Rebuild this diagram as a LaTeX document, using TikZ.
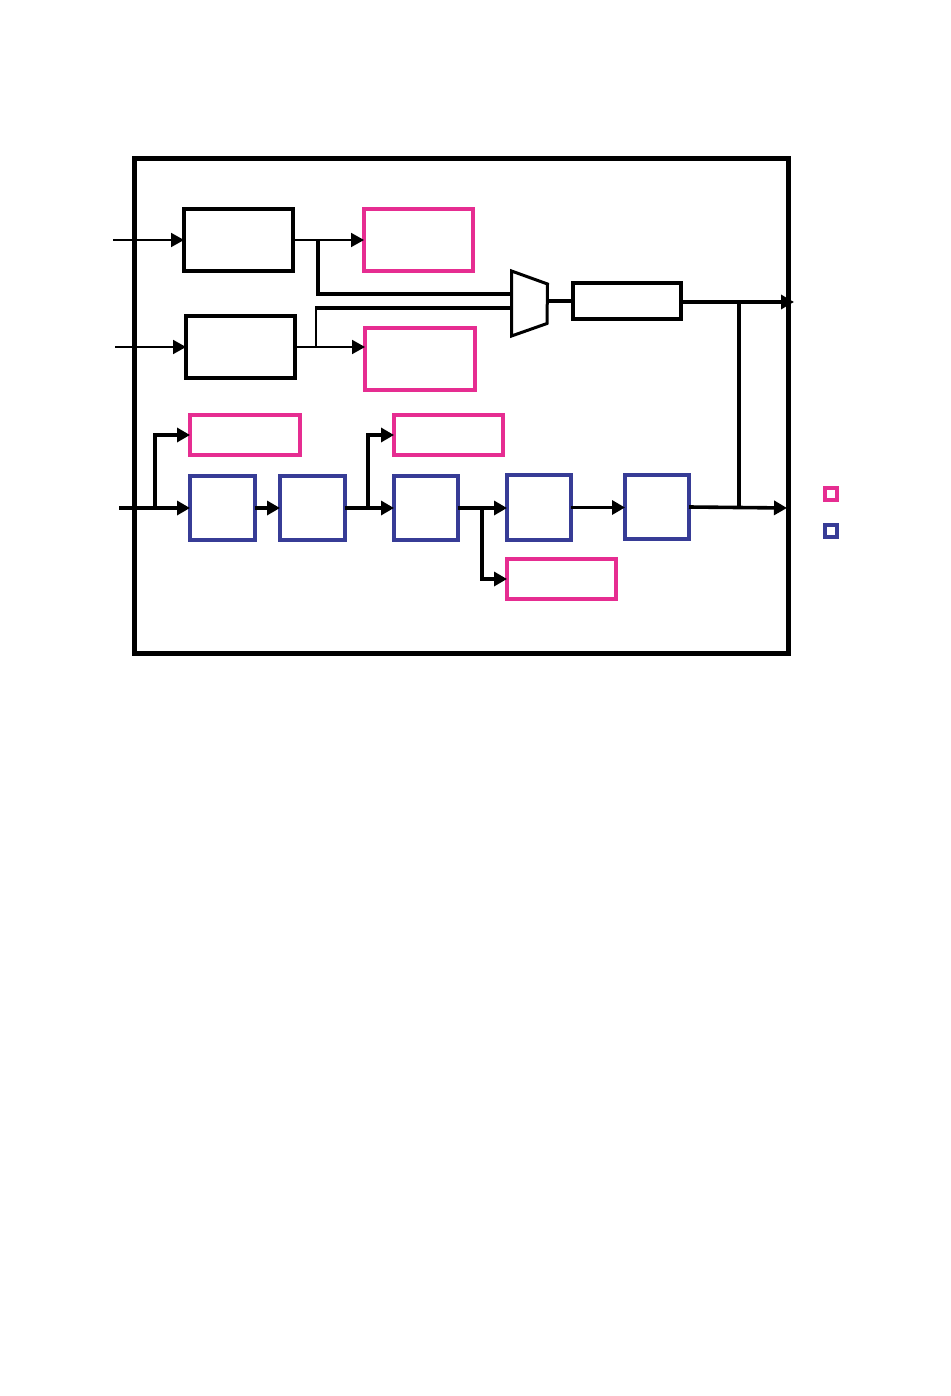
\documentclass[tikz,border=0pt]{standalone}
\usetikzlibrary{arrows.meta}
\definecolor{pinkc}{RGB}{230,45,145}
\definecolor{bluec}{RGB}{55,60,150}
\tikzset{
  blk/.style={draw=black, line width=3.6pt, inner sep=0pt, outer sep=0pt, anchor=center},
  pinkbox/.style={draw=pinkc, line width=3.6pt, inner sep=0pt, outer sep=0pt, anchor=center},
  bluebox/.style={draw=bluec, line width=3.6pt, inner sep=0pt, outer sep=0pt, anchor=center},
  thinw/.style={line width=2pt},
  thickw/.style={line width=3.6pt},
  arr/.style={-{Triangle[length=13pt,width=14pt]}},
  frame/.style={line width=5pt}
}
\begin{document}
\begin{tikzpicture}[x=1pt,y=-1pt]
\useasboundingbox (0,0) rectangle (950,1396);
\draw[frame] (134.5,158.5) rectangle (788.5,653.5);

% top blocks
\node[blk, minimum width=109pt, minimum height=62pt] (A) at (238.5,240) {};
\node[blk, minimum width=109pt, minimum height=62pt] (B) at (240.5,347) {};
\node[pinkbox, minimum width=109pt, minimum height=62pt] (P1) at (418.5,240) {};
\node[pinkbox, minimum width=110pt, minimum height=62pt] (P2) at (420,359) {};
\node[blk, minimum width=108pt, minimum height=36pt] (C) at (627,301) {};

% mux
\draw[line width=3pt, line join=miter] (511.5,271) -- (547.5,284) -- (547,323.5) -- (511.5,336) -- cycle;
\coordinate (mux1) at (511,294);
\coordinate (mux2) at (511,308);
\coordinate (muxo) at (548,301);

% bottom row
\node[pinkbox, minimum width=110pt, minimum height=40pt] (P3) at (245,435) {};
\node[pinkbox, minimum width=109pt, minimum height=40pt] (P4) at (448.5,435) {};
\node[pinkbox, minimum width=109pt, minimum height=40pt] (P5) at (561.5,579) {};
\node[bluebox, minimum width=65pt, minimum height=64pt] (D1) at (222.5,508) {};
\node[bluebox, minimum width=65pt, minimum height=64pt] (D2) at (312.5,508) {};
\node[bluebox, minimum width=64pt, minimum height=64pt] (D3) at (426,508) {};
\node[bluebox, minimum width=64pt, minimum height=65pt] (D4) at (539,507.5) {};
\node[bluebox, minimum width=64pt, minimum height=64pt] (D5) at (657,507) {};

% legend
\node[pinkbox, minimum width=12.5pt, minimum height=12.5pt] (L1) at (831,494) {};
\node[bluebox, minimum width=12.5pt, minimum height=12.5pt] (L2) at (831,531) {};

% coordinates
\coordinate (ina) at (113,240);
\coordinate (inb) at (115,347);
\coordinate (ja) at (318,240);
\coordinate (jb) at (316,347);
\coordinate (out1) at (794,302);
\coordinate (vj) at (739,302);
\coordinate (vj2) at (739,508);
\coordinate (inc) at (119,508);
\coordinate (jc) at (155,508);
\coordinate (jd) at (368,508);
\coordinate (je) at (482,508);
\coordinate (out2) at (787,508);

% top connectors
\draw[thinw, arr] (ina) -- (A.west);
\draw[thinw, arr] (inb) -- (B.west);
\draw[thinw, arr] (A.east) -- (P1.west);
\draw[thickw] (ja) |- (mux1);
\draw[thinw, arr] (B.east) -- (B.east -| P2.west);
\draw[thinw] (jb) -- (jb |- mux2);
\draw[thickw] ([xshift=-1pt]jb |- mux2) -- (mux2);
\draw[thickw] (muxo) -- (C.west);
\draw[thickw, arr] (C.east |- out1) -- (out1);
\draw[thickw] (vj) -- (vj2);

% bottom connectors
\draw[thickw, arr] (inc) -- (D1.west);
\draw[thickw, arr] (jc) |- (P3.west);
\draw[thickw, arr] (D1.east) -- (D2.west);
\draw[thickw, arr] (D2.east) -- (D2.east -| D3.west);
\draw[thickw, arr] (jd) |- (P4.west);
\draw[thickw, arr] (D3.east) -- (D3.east -| D4.west);
\draw[thickw, arr] (je) |- (P5.west);
\draw[thickw, arr] (D4.east) -- (D4.east -| D5.west);
\draw[thickw, arr] (D5.east) -- (out2);
\end{tikzpicture}
\end{document}
